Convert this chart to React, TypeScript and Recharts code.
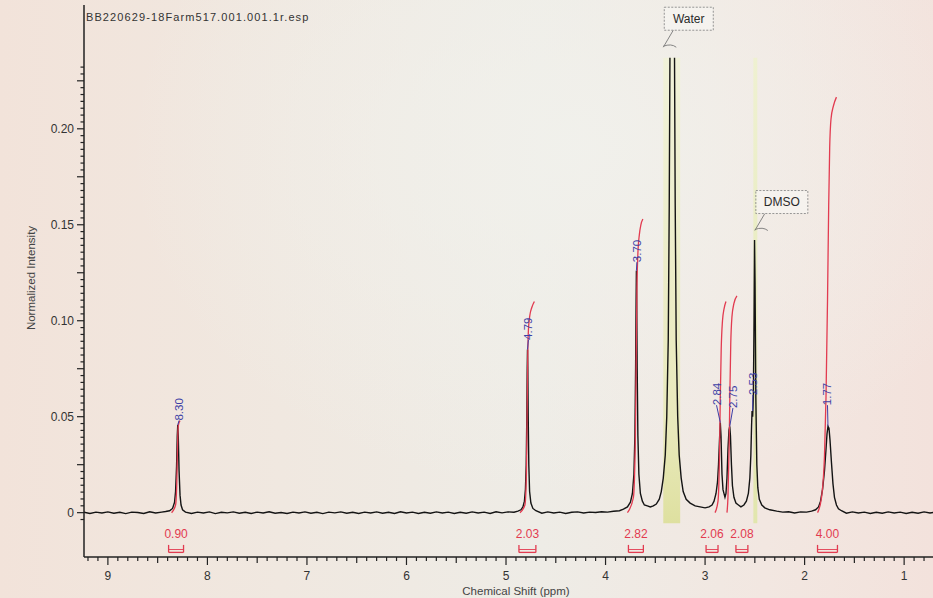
import React from 'react';
import { LineChart, Line, XAxis, YAxis, ReferenceArea, ReferenceLine, ReferenceDot } from 'recharts';

// 1H spectrum trace, [ppm, normalized intensity] (high ppm -> low ppm)
const spectrum: [number, number | null][] = [
  [9.24, 0.0002], [9.18, -0.0004], [9.12, 0.0003], [9.06, -0.0002], [9.0, 0.0004], [8.94, -0.0003],
  [8.88, 0.0002], [8.82, -0.0005], [8.76, 0.0003], [8.7, 0.0001], [8.64, -0.0004], [8.58, 0.0005],
  [8.52, -0.0002], [8.46, 0.0003], [8.42, 0.0006],
  [8.38, 0.001], [8.35, 0.0022], [8.33, 0.0055], [8.32, 0.011], [8.31, 0.024], [8.303, 0.04],
  [8.298, 0.0457], [8.293, 0.04], [8.285, 0.022], [8.275, 0.009], [8.265, 0.004], [8.25, 0.0015], [8.22, 0.0003],
  [8.16, -0.0004], [8.1, 0.0003], [8.04, -0.0002], [7.98, 0.0004], [7.92, -0.0005], [7.86, 0.0002],
  [7.8, -0.0001], [7.74, 0.0004], [7.68, -0.0003], [7.62, 0.0002], [7.56, -0.0004], [7.5, 0.0003],
  [7.44, -0.0002], [7.38, 0.0005], [7.32, -0.0003], [7.26, 0.0001], [7.2, -0.0004], [7.14, 0.0003],
  [7.08, -0.0002], [7.02, 0.0004], [6.96, -0.0003], [6.9, 0.0002], [6.84, -0.0005], [6.78, 0.0003],
  [6.72, -0.0001], [6.66, 0.0004], [6.6, -0.0003], [6.54, 0.0002], [6.48, -0.0004], [6.42, 0.0003],
  [6.36, -0.0002], [6.3, 0.0004], [6.24, -0.0003], [6.18, 0.0002], [6.12, -0.0004], [6.06, 0.0005],
  [6.0, -0.0002], [5.94, 0.0003], [5.88, -0.0004], [5.82, 0.0002], [5.76, -0.0003], [5.7, 0.0004],
  [5.64, -0.0002], [5.58, 0.0003], [5.52, -0.0004], [5.46, 0.0002], [5.4, -0.0003], [5.34, 0.0004],
  [5.28, -0.0002], [5.22, 0.0003], [5.16, -0.0004], [5.1, 0.0005], [5.04, -0.0001], [4.98, 0.0004],
  [4.92, 0.0002], [4.88, 0.0008],
  [4.85, 0.0015], [4.83, 0.003], [4.815, 0.006], [4.805, 0.012], [4.797, 0.025], [4.791, 0.05],
  [4.787, 0.075], [4.784, 0.085], [4.781, 0.075], [4.777, 0.05], [4.771, 0.025], [4.763, 0.011],
  [4.75, 0.005], [4.73, 0.0022], [4.7, 0.001],
  [4.64, -0.0003], [4.58, 0.0004], [4.52, -0.0002], [4.46, 0.0003], [4.4, -0.0004], [4.34, 0.0002],
  [4.28, 0.0004], [4.22, -0.0002], [4.16, 0.0003], [4.1, 0.0001], [4.04, 0.0005], [3.98, 0.0003],
  [3.92, 0.0007], [3.86, 0.001],
  [3.82, 0.0018], [3.78, 0.003], [3.75, 0.0055], [3.73, 0.01], [3.715, 0.02], [3.705, 0.04],
  [3.698, 0.075], [3.693, 0.11], [3.69, 0.126], [3.687, 0.11], [3.682, 0.075], [3.675, 0.04],
  [3.665, 0.02], [3.65, 0.01], [3.63, 0.006], [3.61, 0.004],
  [3.58, 0.0035], [3.55, 0.003], [3.52, 0.0035], [3.49, 0.0045], [3.46, 0.007],
  [3.44, 0.011], [3.42, 0.018], [3.4, 0.03], [3.385, 0.05], [3.37, 0.09], [3.36, 0.16], [3.353, 0.237],
  [3.33, null],
  [3.307, 0.237], [3.3, 0.16], [3.29, 0.09], [3.275, 0.05], [3.26, 0.03], [3.24, 0.018], [3.22, 0.011],
  [3.19, 0.007], [3.15, 0.005], [3.1, 0.0035], [3.05, 0.003], [3.0, 0.0025], [2.96, 0.003], [2.93, 0.004],
  [2.91, 0.006], [2.89, 0.01], [2.875, 0.016], [2.865, 0.025], [2.855, 0.038], [2.847, 0.047],
  [2.84, 0.04], [2.83, 0.02], [2.82, 0.012], [2.8, 0.008], [2.79, 0.01], [2.78, 0.018], [2.77, 0.033],
  [2.76, 0.043], [2.752, 0.045], [2.745, 0.04], [2.735, 0.025], [2.725, 0.014], [2.71, 0.008],
  [2.69, 0.005], [2.665, 0.004],
  [2.64, 0.003], [2.61, 0.004], [2.585, 0.006], [2.565, 0.01], [2.55, 0.018], [2.54, 0.03],
  [2.533, 0.045], [2.528, 0.053], [2.522, 0.05], [2.515, 0.06], [2.508, 0.1], [2.503, 0.142],
  [2.498, 0.12], [2.49, 0.06], [2.48, 0.025], [2.47, 0.013], [2.455, 0.007], [2.43, 0.004], [2.4, 0.0025],
  [2.35, 0.0015], [2.28, 0.0008], [2.22, 0.0003], [2.16, 0.0005], [2.1, -0.0002], [2.04, 0.0004],
  [1.98, 0.0003], [1.93, 0.0008], [1.89, 0.0015],
  [1.86, 0.003], [1.84, 0.006], [1.82, 0.012], [1.8, 0.022], [1.785, 0.033], [1.775, 0.041],
  [1.765, 0.045], [1.755, 0.044], [1.745, 0.038], [1.73, 0.026], [1.715, 0.015], [1.7, 0.008],
  [1.68, 0.004], [1.66, 0.002], [1.63, 0.001],
  [1.58, -0.0003], [1.52, 0.0004], [1.46, -0.0002], [1.4, 0.0003], [1.34, -0.0004], [1.28, 0.0002],
  [1.22, -0.0003], [1.16, 0.0004], [1.1, -0.0002], [1.04, 0.0003], [0.98, -0.0004], [0.92, 0.0002],
  [0.86, -0.0003], [0.8, 0.0004], [0.74, -0.0002], [0.71, 0.0001],
];

// integral curves (red)
const int830: [number, number][] = [[8.36, 0], [8.32, 0.004], [8.308, 0.015], [8.302, 0.03], [8.297, 0.041], [8.29, 0.046], [8.275, 0.048]];
const int479: [number, number][] = [[4.86, 0], [4.81, 0.004], [4.795, 0.02], [4.788, 0.05], [4.782, 0.08], [4.775, 0.095], [4.76, 0.103], [4.74, 0.107], [4.715, 0.11]];
const int370: [number, number][] = [[3.78, 0], [3.72, 0.008], [3.7, 0.04], [3.692, 0.08], [3.685, 0.115], [3.675, 0.135], [3.66, 0.145], [3.645, 0.15], [3.625, 0.153]];
const int284: [number, number][] = [[2.9, 0], [2.87, 0.006], [2.855, 0.03], [2.847, 0.06], [2.838, 0.085], [2.825, 0.1], [2.81, 0.106], [2.79, 0.11]];
const int275: [number, number][] = [[2.78, 0], [2.77, 0.008], [2.758, 0.035], [2.75, 0.065], [2.742, 0.088], [2.73, 0.102], [2.71, 0.109], [2.68, 0.113]];
const int177: [number, number][] = [[1.87, 0], [1.83, 0.008], [1.8, 0.03], [1.785, 0.06], [1.77, 0.11], [1.758, 0.16], [1.748, 0.19], [1.735, 0.205], [1.71, 0.212], [1.68, 0.2165]];
const integralCurves = [int830, int479, int370, int284, int275, int177];

// integration ranges and values
const intFrom = [8.39, 4.87, 3.77, 2.99, 2.69, 1.87];
const intTo = [8.24, 4.7, 3.62, 2.87, 2.57, 1.67];
const intValues = ['0.90', '2.03', '2.82', '2.06', '2.08', '4.00'];

// peak picking labels: text, label base (ppm, value), peak tip (ppm, value)
const peakText = ['8.30', '4.79', '3.70', '2.84', '2.75', '2.53', '1.77'];
const peakLabelPpm = [8.285, 4.775, 3.685, 2.885, 2.72, 2.52, 1.77];
const peakLabelAt = [0.048, 0.09, 0.1305, 0.056, 0.0545, 0.0613, 0.056];
const peakTipPpm = [8.298, 4.784, 3.69, 2.847, 2.752, 2.522, 1.765];
const peakTip = [0.0457, 0.085, 0.126, 0.047, 0.045, 0.053, 0.045];

// solvent / impurity regions
const solventNames = ['Water', 'DMSO'];
const solventFrom = [3.42, 2.515];
const solventTo = [3.25, 2.475];
const solventTipPpm = [3.42, 2.5];
const solventTip = [0.2425, 0.147];

const xTickValues = [9, 8, 7, 6, 5, 4, 3, 2, 1];
const xTickLabels = ['9', '8', '7', '6', '5', '4', '3', '2', '1'];
const yTickValues = [0, 0.05, 0.1, 0.15, 0.2];
const yTickLabels = ['0', '0.05', '0.10', '0.15', '0.20'];

const FONT = '"Liberation Sans", Arial, sans-serif';
const RED = '#e23b50';
const BLUE = '#3d3fa6';
const Y_STEP = 0.025 / 7;

const pts = (a: [number, number | null][]) => a.map(([x, y]) => ({ x, y }));

const xMinor = Array.from({ length: 85 }, (_, i) => Math.round((9.2 - i * 0.1) * 10) / 10);
const yMinor = Array.from({ length: 67 }, (_, i) => (i - 1) * Y_STEP);

const XTick = (props: any) => {
  const { x, y, payload } = props;
  const v = payload.value;
  const major = Math.abs(v - Math.round(v)) < 1e-6;
  const medium = !major && Math.abs(v * 2 - Math.round(v * 2)) < 1e-6;
  const idx = xTickValues.findIndex((t) => Math.abs(t - v) < 1e-6);
  return (
    <g>
      <line x1={x} y1={y} x2={x} y2={y + (major ? 8 : medium ? 6 : 4)} stroke="#222" strokeWidth={1.2} />
      {major && idx >= 0 && (
        <text x={x} y={y + 23} textAnchor="middle" fontSize={12} fontFamily={FONT} fill="#333">
          {xTickLabels[idx]}
        </text>
      )}
    </g>
  );
};

const YTick = (props: any) => {
  const { x, y, payload } = props;
  const k = Math.round(payload.value / Y_STEP);
  const medium = k % 7 === 0;
  const idx = yTickValues.findIndex((t) => Math.abs(t - payload.value) < 1e-6);
  return (
    <g>
      <line x1={x} y1={y} x2={x - (medium ? 7 : 3.5)} y2={y} stroke="#222" strokeWidth={1.2} />
      {idx >= 0 && (
        <text x={x - 10} y={y + 4} textAnchor="end" fontSize={12} fontFamily={FONT} fill="#333">
          {yTickLabels[idx]}
        </text>
      )}
    </g>
  );
};

const boxWidth: Record<string, number> = { Water: 49, DMSO: 52 };

export default function App() {
  return (
    <div
      style={{
        position: 'absolute',
        left: 0,
        top: 0,
        width: 933,
        height: 598,
        overflow: 'hidden',
        background:
          'radial-gradient(ellipse at 62% 25%, rgba(241,241,236,0.9) 0%, rgba(241,241,236,0) 55%), linear-gradient(90deg, #f2e3da 0%, #f0e8e0 30%, #eeece6 58%, #f2e7e1 82%, #f3e2dc 100%)',
      }}
    >
      <LineChart width={933} height={598} margin={{ top: 5, right: 0, bottom: 0, left: 0 }}>
        <defs>
          <linearGradient id="waterBand" x1="0" y1="0" x2="0" y2="1">
            <stop offset="0%" stopColor="#f1f3d4" stopOpacity={0.75} />
            <stop offset="80%" stopColor="#e6e8b0" stopOpacity={0.8} />
            <stop offset="100%" stopColor="#dcdf98" stopOpacity={0.9} />
          </linearGradient>
          <linearGradient id="dmsoBand" x1="0" y1="0" x2="0" y2="1">
            <stop offset="0%" stopColor="#eef2cc" stopOpacity={0.8} />
            <stop offset="100%" stopColor="#e0e6a8" stopOpacity={0.9} />
          </linearGradient>
        </defs>
        <XAxis
          type="number"
          dataKey="x"
          domain={[0.71, 9.24]}
          reversed
          allowDataOverflow
          ticks={xMinor}
          interval={0}
          tick={XTick}
          tickLine={false}
          tickSize={0}
          tickMargin={0}
          height={41}
          axisLine={{ stroke: '#222', strokeWidth: 1.5 }}
        />
        <YAxis
          type="number"
          domain={[-0.0231, 0.2645]}
          allowDataOverflow
          ticks={yMinor}
          interval={0}
          tick={YTick}
          tickLine={false}
          tickSize={0}
          tickMargin={0}
          width={84}
          axisLine={{ stroke: '#222', strokeWidth: 1.5 }}
        />
        {solventNames.map((n, i) => (
          <ReferenceArea
            key={n}
            x1={solventFrom[i]}
            x2={solventTo[i]}
            y1={-0.0055}
            y2={0.237}
            fill={i === 0 ? 'url(#waterBand)' : 'url(#dmsoBand)'}
            fillOpacity={1}
            stroke="none"
          />
        ))}
        <Line
          data={pts(spectrum)}
          dataKey="y"
          type="linear"
          stroke="#141414"
          strokeWidth={1.4}
          dot={false}
          connectNulls={false}
          isAnimationActive={false}
        />
        {integralCurves.map((c, i) => (
          <Line
            key={i}
            data={pts(c)}
            dataKey="y"
            type="monotoneX"
            stroke={RED}
            strokeWidth={1.3}
            dot={false}
            isAnimationActive={false}
          />
        ))}
        {intValues.map((v, i) => (
          <React.Fragment key={v + i}>
            <ReferenceLine segment={[{ x: intFrom[i], y: -0.0168 }, { x: intFrom[i], y: -0.0207 }]} stroke={RED} strokeWidth={1.3} />
            <ReferenceLine segment={[{ x: intTo[i], y: -0.0168 }, { x: intTo[i], y: -0.0207 }]} stroke={RED} strokeWidth={1.3} />
            <ReferenceLine segment={[{ x: intFrom[i], y: -0.0207 }, { x: intTo[i], y: -0.0207 }]} stroke={RED} strokeWidth={1.3} />
            <ReferenceLine segment={[{ x: intFrom[i], y: -0.0192 }, { x: intTo[i], y: -0.0192 }]} stroke={RED} strokeWidth={0.9} />
            <ReferenceDot
              x={(intFrom[i] + intTo[i]) / 2}
              y={-0.0106}
              r={1}
              shape={(p: any) => (
                <text x={p.cx} y={p.cy + 4.5} textAnchor="middle" fontSize={12} fontFamily={FONT} fill={RED}>
                  {v}
                </text>
              )}
            />
          </React.Fragment>
        ))}
        {peakText.map((t, i) => (
          <React.Fragment key={t}>
            <ReferenceLine
              segment={[{ x: peakTipPpm[i], y: peakTip[i] }, { x: peakLabelPpm[i], y: peakLabelAt[i] }]}
              stroke={BLUE}
              strokeWidth={1}
            />
            <ReferenceDot
              x={peakLabelPpm[i]}
              y={peakLabelAt[i]}
              r={1}
              shape={(p: any) => (
                <text
                  x={p.cx}
                  y={p.cy}
                  transform={`rotate(-90 ${p.cx} ${p.cy})`}
                  textAnchor="start"
                  dominantBaseline="central"
                  fontSize={11.5}
                  fontFamily={FONT}
                  fill={BLUE}
                >
                  {t}
                </text>
              )}
            />
          </React.Fragment>
        ))}
        {solventNames.map((n, i) => (
          <ReferenceDot
            key={'c' + n}
            x={solventTipPpm[i]}
            y={solventTip[i]}
            r={1}
            shape={(p: any) => {
              const w = boxWidth[n];
              return (
                <g>
                  <path
                    d={`M${p.cx + 10},${p.cy - 17} L${p.cx},${p.cy} M${p.cx},${p.cy - 1} Q${p.cx + 8},${p.cy - 4} ${p.cx + 13},${p.cy}`}
                    stroke="#777"
                    strokeWidth={0.9}
                    fill="none"
                  />
                  <rect
                    x={p.cx + 1}
                    y={p.cy - 40}
                    width={w}
                    height={23}
                    fill="rgba(248,247,244,0.6)"
                    stroke="#8a8a8a"
                    strokeWidth={0.9}
                    strokeDasharray="2 1.5"
                  />
                  <text x={p.cx + 1 + w / 2} y={p.cy - 24.5} textAnchor="middle" fontSize={12} fontFamily={FONT} fill="#2a2a2a">
                    {n}
                  </text>
                </g>
              );
            }}
          />
        ))}
      </LineChart>
      <svg width={933} height={598} style={{ position: 'absolute', left: 0, top: 0, pointerEvents: 'none' }}>
        <text x={86} y={21} fontSize={11} letterSpacing={1.1} fontFamily={FONT} fill="#333">
          BB220629-18Farm517.001.001.1r.esp
        </text>
        <text
          x={31}
          y={278}
          transform="rotate(-90 31 278)"
          textAnchor="middle"
          dominantBaseline="central"
          fontSize={11.5}
          fontFamily={FONT}
          fill="#444"
        >
          Normalized Intensity
        </text>
        <text x={516} y={595} textAnchor="middle" fontSize={11.5} fontFamily={FONT} fill="#444">
          Chemical Shift (ppm)
        </text>
      </svg>
    </div>
  );
}
